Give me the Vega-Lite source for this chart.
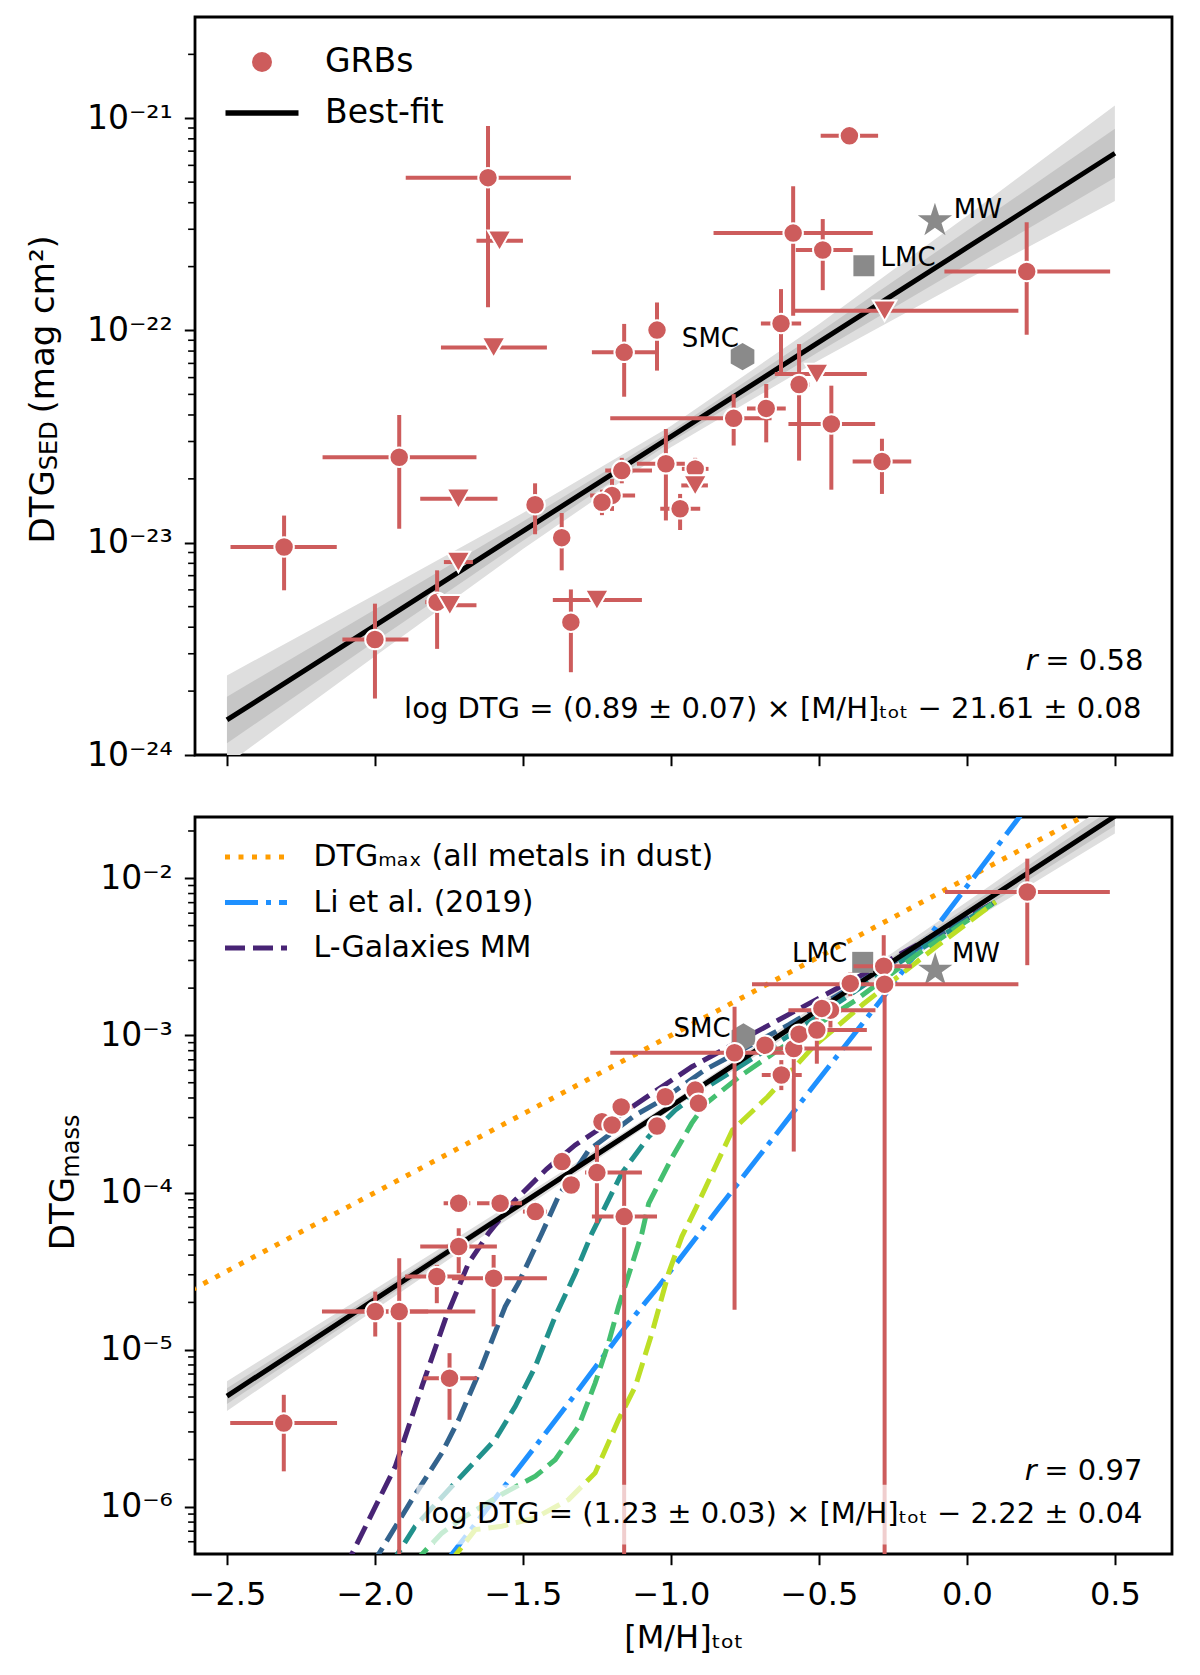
{
  "$schema": "https://vega.github.io/schema/vega-lite/v6.json",
  "padding": {"left": 25, "top": 15, "right": 5, "bottom": 5},
  "spacing": 41,
  "config": {
    "font": "DejaVu Sans",
    "view": {"stroke": "black", "strokeWidth": 2.8},
    "axis": {
      "grid": false, "domain": false, "tickColor": "black", "tickWidth": 2,
      "labelColor": "black", "labelFont": "DejaVu Sans", "labelFontSize": 32,
      "titleFont": "DejaVu Sans", "titleFontSize": 32, "titleFontWeight": "normal",
      "titleColor": "black", "labelFlush": false
    },
    "legend": {"labelFont": "DejaVu Sans", "labelColor": "black", "padding": 0, "labelLimit": 800}
  },
  "datasets": {
    "top_pts": [
      {"x": -2.307, "ly": -23.02, "xlo": -2.488, "xhi": -2.129, "ylo": -23.224, "yhi": -22.872, "kind": "det"},
      {"x": -1.618, "ly": -21.28, "xlo": -1.896, "xhi": -1.338, "ylo": -21.89, "yhi": -21.036, "kind": "det"},
      {"x": -1.918, "ly": -22.597, "xlo": -2.177, "xhi": -1.657, "ylo": -22.934, "yhi": -22.398, "kind": "det"},
      {"x": -1.459, "ly": -22.821, "xlo": -1.49, "xhi": -1.43, "ylo": -22.96, "yhi": -22.72, "kind": "det"},
      {"x": -1.369, "ly": -22.976, "xlo": -1.4, "xhi": -1.34, "ylo": -23.13, "yhi": -22.86, "kind": "det"},
      {"x": -1.79, "ly": -23.28, "xlo": -1.83, "xhi": -1.75, "ylo": -23.5, "yhi": -23.13, "kind": "det"},
      {"x": -2.0, "ly": -23.456, "xlo": -2.11, "xhi": -1.887, "ylo": -23.734, "yhi": -23.287, "kind": "det"},
      {"x": -1.338, "ly": -23.374, "xlo": -1.36, "xhi": -1.32, "ylo": -23.61, "yhi": -23.22, "kind": "det"},
      {"x": -0.397, "ly": -21.083, "xlo": -0.494, "xhi": -0.3, "ylo": -21.1, "yhi": -21.07, "kind": "det"},
      {"x": -0.587, "ly": -21.541, "xlo": -0.856, "xhi": -0.318, "ylo": -21.93, "yhi": -21.32, "kind": "det"},
      {"x": -0.487, "ly": -21.621, "xlo": -0.578, "xhi": -0.386, "ylo": -21.81, "yhi": -21.475, "kind": "det"},
      {"x": 0.202, "ly": -21.722, "xlo": -0.076, "xhi": 0.484, "ylo": -22.02, "yhi": -21.49, "kind": "det"},
      {"x": -0.628, "ly": -21.967, "xlo": -0.696, "xhi": -0.56, "ylo": -22.213, "yhi": -21.805, "kind": "det"},
      {"x": -1.047, "ly": -21.998, "xlo": -1.06, "xhi": -1.035, "ylo": -22.189, "yhi": -21.868, "kind": "det"},
      {"x": -1.158, "ly": -22.103, "xlo": -1.267, "xhi": -1.047, "ylo": -22.312, "yhi": -21.969, "kind": "det"},
      {"x": -0.567, "ly": -22.255, "xlo": -0.6, "xhi": -0.53, "ylo": -22.613, "yhi": -22.064, "kind": "det"},
      {"x": -0.678, "ly": -22.367, "xlo": -0.743, "xhi": -0.612, "ylo": -22.527, "yhi": -22.252, "kind": "det"},
      {"x": -0.788, "ly": -22.414, "xlo": -1.205, "xhi": -0.66, "ylo": -22.542, "yhi": -22.3, "kind": "det"},
      {"x": -0.458, "ly": -22.44, "xlo": -0.603, "xhi": -0.31, "ylo": -22.75, "yhi": -22.26, "kind": "det"},
      {"x": -0.287, "ly": -22.617, "xlo": -0.386, "xhi": -0.188, "ylo": -22.77, "yhi": -22.51, "kind": "det"},
      {"x": -1.017, "ly": -22.628, "xlo": -1.115, "xhi": -0.953, "ylo": -22.895, "yhi": -22.464, "kind": "det"},
      {"x": -1.166, "ly": -22.66, "xlo": -1.222, "xhi": -1.064, "ylo": -22.72, "yhi": -22.6, "kind": "det"},
      {"x": -0.918, "ly": -22.652, "xlo": -0.963, "xhi": -0.873, "ylo": -22.7, "yhi": -22.6, "kind": "det"},
      {"x": -1.199, "ly": -22.777, "xlo": -1.273, "xhi": -1.121, "ylo": -22.85, "yhi": -22.7, "kind": "det"},
      {"x": -1.233, "ly": -22.809, "xlo": -1.26, "xhi": -1.2, "ylo": -22.87, "yhi": -22.75, "kind": "det"},
      {"x": -0.969, "ly": -22.84, "xlo": -1.036, "xhi": -0.901, "ylo": -22.94, "yhi": -22.77, "kind": "det"},
      {"x": -1.579, "ly": -21.577, "xlo": -1.657, "xhi": -1.5, "kind": "ul"},
      {"x": -1.599, "ly": -22.08, "xlo": -1.777, "xhi": -1.419, "kind": "ul"},
      {"x": -1.718, "ly": -22.793, "xlo": -1.847, "xhi": -1.586, "kind": "ul"},
      {"x": -1.718, "ly": -23.091, "xlo": -1.767, "xhi": -1.669, "kind": "ul"},
      {"x": -1.747, "ly": -23.295, "xlo": -1.787, "xhi": -1.657, "kind": "ul"},
      {"x": -1.25, "ly": -23.27, "xlo": -1.399, "xhi": -1.098, "kind": "ul"},
      {"x": -0.278, "ly": -21.907, "xlo": -0.591, "xhi": 0.174, "kind": "ul"},
      {"x": -0.507, "ly": -22.205, "xlo": -0.649, "xhi": -0.338, "kind": "ul"},
      {"x": -0.918, "ly": -22.73, "xlo": -0.965, "xhi": -0.875, "kind": "ul"}
    ],
    "bot_pts": [
      {"x": -2.308, "ly": -5.467, "xlo": -2.489, "xhi": -2.128, "ylo": -5.774, "yhi": -5.287},
      {"x": -1.999, "ly": -4.757, "xlo": -2.179, "xhi": -1.82, "ylo": -4.916, "yhi": -4.63},
      {"x": -1.918, "ly": -4.757, "xlo": -2.1, "xhi": -1.661, "ylo": -7.0, "yhi": -4.418},
      {"x": -1.791, "ly": -4.534, "xlo": -1.898, "xhi": -1.7, "ylo": -4.704, "yhi": -4.46},
      {"x": -1.599, "ly": -4.545, "xlo": -1.74, "xhi": -1.419, "ylo": -4.852, "yhi": -4.397},
      {"x": -1.717, "ly": -4.343, "xlo": -1.847, "xhi": -1.588, "ylo": -4.513, "yhi": -4.227},
      {"x": -1.748, "ly": -5.181, "xlo": -1.836, "xhi": -1.655, "ylo": -5.446, "yhi": -5.022},
      {"x": -1.158, "ly": -4.153, "xlo": -1.267, "xhi": -1.047, "ylo": -7.0, "yhi": -3.866},
      {"x": -1.717, "ly": -4.068, "xlo": -1.768, "xhi": -1.678, "ylo": -4.1, "yhi": -4.03},
      {"x": -1.577, "ly": -4.068, "xlo": -1.655, "xhi": -1.503, "ylo": -4.1, "yhi": -4.03},
      {"x": -1.458, "ly": -4.121, "xlo": -1.5, "xhi": -1.42, "ylo": -4.16, "yhi": -4.08},
      {"x": -1.368, "ly": -3.803, "xlo": -1.4, "xhi": -1.34, "ylo": -3.84, "yhi": -3.77},
      {"x": -1.337, "ly": -3.952, "xlo": -1.36, "xhi": -1.31, "ylo": -3.99, "yhi": -3.91},
      {"x": -1.25, "ly": -3.873, "xlo": -1.29, "xhi": -1.098, "ylo": -4.195, "yhi": -3.697},
      {"x": -1.233, "ly": -3.549, "xlo": -1.26, "xhi": -1.21, "ylo": -3.58, "yhi": -3.52},
      {"x": -1.199, "ly": -3.57, "xlo": -1.23, "xhi": -1.17, "ylo": -3.6, "yhi": -3.54},
      {"x": -1.168, "ly": -3.455, "xlo": -1.2, "xhi": -1.13, "ylo": -3.49, "yhi": -3.42},
      {"x": -1.047, "ly": -3.577, "xlo": -1.07, "xhi": -1.02, "ylo": -3.61, "yhi": -3.55},
      {"x": -1.019, "ly": -3.39, "xlo": -1.04, "xhi": -0.99, "ylo": -3.45, "yhi": -3.33},
      {"x": -0.918, "ly": -3.348, "xlo": -0.94, "xhi": -0.89, "ylo": -3.38, "yhi": -3.32},
      {"x": -0.907, "ly": -3.432, "xlo": -0.93, "xhi": -0.88, "ylo": -3.46, "yhi": -3.4},
      {"x": -0.785, "ly": -3.11, "xlo": -1.205, "xhi": -0.6, "ylo": -4.746, "yhi": -2.818},
      {"x": -0.682, "ly": -3.062, "xlo": -0.71, "xhi": -0.65, "ylo": -3.09, "yhi": -3.03},
      {"x": -0.585, "ly": -3.083, "xlo": -0.65, "xhi": -0.321, "ylo": -3.739, "yhi": -3.0},
      {"x": -0.567, "ly": -2.992, "xlo": -0.6, "xhi": -0.54, "ylo": -3.03, "yhi": -2.96},
      {"x": -0.507, "ly": -2.966, "xlo": -0.55, "xhi": -0.338, "ylo": -3.18, "yhi": -2.88},
      {"x": -0.627, "ly": -3.252, "xlo": -0.693, "xhi": -0.558, "ylo": -3.348, "yhi": -3.157},
      {"x": -0.461, "ly": -2.839, "xlo": -0.603, "xhi": -0.309, "ylo": -2.95, "yhi": -2.78},
      {"x": -0.49, "ly": -2.828, "xlo": -0.52, "xhi": -0.46, "ylo": -2.86, "yhi": -2.8},
      {"x": -0.394, "ly": -2.669, "xlo": -0.43, "xhi": -0.36, "ylo": -2.75, "yhi": -2.6},
      {"x": -0.281, "ly": -2.559, "xlo": -0.383, "xhi": -0.186, "ylo": -2.62, "yhi": -2.362},
      {"x": -0.278, "ly": -2.674, "xlo": -0.726, "xhi": 0.174, "ylo": -7.0, "yhi": -2.65},
      {"x": 0.204, "ly": -2.087, "xlo": -0.074, "xhi": 0.483, "ylo": -2.553, "yhi": -1.875}
    ],
    "fit_top": [
      {"x": -2.5, "ly": -23.835, "olo": -24.045, "ohi": -23.625, "ilo": -23.945, "ihi": -23.725},
      {"x": -2.0, "ly": -23.39, "olo": -23.535, "ohi": -23.245, "ilo": -23.465, "ihi": -23.315},
      {"x": -1.5, "ly": -22.945, "olo": -23.03, "ohi": -22.86, "ilo": -22.99, "ihi": -22.9},
      {"x": -1.0, "ly": -22.5, "olo": -22.55, "ohi": -22.45, "ilo": -22.525, "ihi": -22.475},
      {"x": -0.5, "ly": -22.055, "olo": -22.14, "ohi": -21.97, "ilo": -22.1, "ihi": -22.01},
      {"x": 0.0, "ly": -21.61, "olo": -21.76, "ohi": -21.46, "ilo": -21.69, "ihi": -21.53},
      {"x": 0.5, "ly": -21.165, "olo": -21.39, "ohi": -20.94, "ilo": -21.28, "ihi": -21.05}
    ],
    "fit_bot": [
      {"x": -2.5, "ly": -5.295, "olo": -5.39, "ohi": -5.2, "ilo": -5.345, "ihi": -5.245},
      {"x": -2.0, "ly": -4.68, "olo": -4.745, "ohi": -4.615, "ilo": -4.715, "ihi": -4.645},
      {"x": -1.5, "ly": -4.065, "olo": -4.105, "ohi": -4.025, "ilo": -4.085, "ihi": -4.045},
      {"x": -1.0, "ly": -3.45, "olo": -3.475, "ohi": -3.425, "ilo": -3.462, "ihi": -3.438},
      {"x": -0.5, "ly": -2.835, "olo": -2.875, "ohi": -2.795, "ilo": -2.855, "ihi": -2.815},
      {"x": 0.0, "ly": -2.22, "olo": -2.29, "ohi": -2.15, "ilo": -2.257, "ihi": -2.183},
      {"x": 0.5, "ly": -1.605, "olo": -1.715, "ohi": -1.495, "ilo": -1.665, "ihi": -1.545}
    ],
    "minor_top": [
      {"ly": -23.699}, {"ly": -23.523}, {"ly": -23.398}, {"ly": -23.301}, {"ly": -23.222}, {"ly": -23.155}, {"ly": -23.097}, {"ly": -23.046},
      {"ly": -22.699}, {"ly": -22.523}, {"ly": -22.398}, {"ly": -22.301}, {"ly": -22.222}, {"ly": -22.155}, {"ly": -22.097}, {"ly": -22.046},
      {"ly": -21.699}, {"ly": -21.523}, {"ly": -21.398}, {"ly": -21.301}, {"ly": -21.222}, {"ly": -21.155}, {"ly": -21.097}, {"ly": -21.046},
      {"ly": -20.699}
    ],
    "minor_bot": [
      {"ly": -6.222}, {"ly": -6.155}, {"ly": -6.097}, {"ly": -6.046},
      {"ly": -5.699}, {"ly": -5.523}, {"ly": -5.398}, {"ly": -5.301}, {"ly": -5.222}, {"ly": -5.155}, {"ly": -5.097}, {"ly": -5.046},
      {"ly": -4.699}, {"ly": -4.523}, {"ly": -4.398}, {"ly": -4.301}, {"ly": -4.222}, {"ly": -4.155}, {"ly": -4.097}, {"ly": -4.046},
      {"ly": -3.699}, {"ly": -3.523}, {"ly": -3.398}, {"ly": -3.301}, {"ly": -3.222}, {"ly": -3.155}, {"ly": -3.097}, {"ly": -3.046},
      {"ly": -2.699}, {"ly": -2.523}, {"ly": -2.398}, {"ly": -2.301}, {"ly": -2.222}, {"ly": -2.155}, {"ly": -2.097}, {"ly": -2.046},
      {"ly": -1.699}
    ],
    "models": [
      {"curve": "max", "x": -2.62, "ly": -4.62}, {"curve": "max", "x": 0.4, "ly": -1.6},
      {"curve": "li", "x": -1.76, "ly": -6.35}, {"curve": "li", "x": -1.571, "ly": -5.89},
      {"curve": "li", "x": -1.458, "ly": -5.615}, {"curve": "li", "x": -1.346, "ly": -5.34},
      {"curve": "li", "x": -1.154, "ly": -4.855}, {"curve": "li", "x": -1.042, "ly": -4.598},
      {"curve": "li", "x": -0.839, "ly": -4.1},
      {"curve": "li", "x": -0.59, "ly": -3.496}, {"curve": "li", "x": -0.282, "ly": -2.754},
      {"curve": "li", "x": 0.169, "ly": -1.631}, {"curve": "li", "x": 0.185, "ly": -1.59},
      {"curve": "lg1", "x": -2.1, "ly": -6.4}, {"curve": "lg1", "x": -2.078, "ly": -6.3},
      {"curve": "lg1", "x": -1.931, "ly": -5.742}, {"curve": "lg1", "x": -1.841, "ly": -5.233},
      {"curve": "lg1", "x": -1.763, "ly": -4.81}, {"curve": "lg1", "x": -1.684, "ly": -4.45},
      {"curve": "lg1", "x": -1.616, "ly": -4.259},
      {"curve": "lg1", "x": -1.531, "ly": -4.057}, {"curve": "lg1", "x": -1.42, "ly": -3.85},
      {"curve": "lg1", "x": -1.323, "ly": -3.697}, {"curve": "lg1", "x": -1.188, "ly": -3.528},
      {"curve": "lg1", "x": -1.064, "ly": -3.369}, {"curve": "lg1", "x": -0.929, "ly": -3.199},
      {"curve": "lg1", "x": -0.638, "ly": -2.903}, {"curve": "lg1", "x": -0.3, "ly": -2.56},
      {"curve": "lg1", "x": 0.097, "ly": -2.15},
      {"curve": "lg2", "x": -2.01, "ly": -6.37}, {"curve": "lg2", "x": -1.875, "ly": -5.954},
      {"curve": "lg2", "x": -1.774, "ly": -5.657}, {"curve": "lg2", "x": -1.717, "ly": -5.445},
      {"curve": "lg2", "x": -1.639, "ly": -5.106}, {"curve": "lg2", "x": -1.56, "ly": -4.725},
      {"curve": "lg2", "x": -1.515, "ly": -4.575}, {"curve": "lg2", "x": -1.436, "ly": -4.259},
      {"curve": "lg2", "x": -1.379, "ly": -4.02}, {"curve": "lg2", "x": -1.278, "ly": -3.73},
      {"curve": "lg2", "x": -1.12, "ly": -3.507}, {"curve": "lg2", "x": -1.03, "ly": -3.411},
      {"curve": "lg2", "x": -0.886, "ly": -3.22}, {"curve": "lg2", "x": -0.6, "ly": -2.93},
      {"curve": "lg2", "x": -0.3, "ly": -2.59}, {"curve": "lg2", "x": 0.097, "ly": -2.15},
      {"curve": "lg3", "x": -1.95, "ly": -6.38}, {"curve": "lg3", "x": -1.921, "ly": -6.293},
      {"curve": "lg3", "x": -1.864, "ly": -6.123}, {"curve": "lg3", "x": -1.74, "ly": -5.869},
      {"curve": "lg3", "x": -1.594, "ly": -5.573}, {"curve": "lg3", "x": -1.526, "ly": -5.36},
      {"curve": "lg3", "x": -1.458, "ly": -5.106}, {"curve": "lg3", "x": -1.391, "ly": -4.788},
      {"curve": "lg3", "x": -1.323, "ly": -4.513}, {"curve": "lg3", "x": -1.267, "ly": -4.259},
      {"curve": "lg3", "x": -1.166, "ly": -3.877}, {"curve": "lg3", "x": -1.075, "ly": -3.644},
      {"curve": "lg3", "x": -0.985, "ly": -3.475}, {"curve": "lg3", "x": -0.88, "ly": -3.33},
      {"curve": "lg3", "x": -0.6, "ly": -3.0}, {"curve": "lg3", "x": -0.3, "ly": -2.62},
      {"curve": "lg3", "x": 0.097, "ly": -2.15},
      {"curve": "lg4", "x": -1.87, "ly": -6.36}, {"curve": "lg4", "x": -1.774, "ly": -6.167},
      {"curve": "lg4", "x": -1.695, "ly": -6.06}, {"curve": "lg4", "x": -1.571, "ly": -5.92},
      {"curve": "lg4", "x": -1.458, "ly": -5.805}, {"curve": "lg4", "x": -1.391, "ly": -5.7},
      {"curve": "lg4", "x": -1.312, "ly": -5.488}, {"curve": "lg4", "x": -1.256, "ly": -5.212},
      {"curve": "lg4", "x": -1.211, "ly": -4.958}, {"curve": "lg4", "x": -1.177, "ly": -4.725},
      {"curve": "lg4", "x": -1.098, "ly": -4.259}, {"curve": "lg4", "x": -1.075, "ly": -4.068},
      {"curve": "lg4", "x": -0.997, "ly": -3.78}, {"curve": "lg4", "x": -0.93, "ly": -3.56},
      {"curve": "lg4", "x": -0.886, "ly": -3.44}, {"curve": "lg4", "x": -0.768, "ly": -3.262},
      {"curve": "lg4", "x": -0.638, "ly": -3.093}, {"curve": "lg4", "x": -0.376, "ly": -2.776},
      {"curve": "lg4", "x": -0.15, "ly": -2.46}, {"curve": "lg4", "x": 0.097, "ly": -2.15},
      {"curve": "lg5", "x": -1.75, "ly": -6.36}, {"curve": "lg5", "x": -1.729, "ly": -6.31},
      {"curve": "lg5", "x": -1.661, "ly": -6.145}, {"curve": "lg5", "x": -1.571, "ly": -6.123},
      {"curve": "lg5", "x": -1.458, "ly": -6.07}, {"curve": "lg5", "x": -1.346, "ly": -5.954},
      {"curve": "lg5", "x": -1.256, "ly": -5.784}, {"curve": "lg5", "x": -1.177, "ly": -5.445},
      {"curve": "lg5", "x": -1.12, "ly": -5.233}, {"curve": "lg5", "x": -1.064, "ly": -4.894},
      {"curve": "lg5", "x": -1.008, "ly": -4.513}, {"curve": "lg5", "x": -0.963, "ly": -4.28},
      {"curve": "lg5", "x": -0.916, "ly": -4.1}, {"curve": "lg5", "x": -0.792, "ly": -3.602},
      {"curve": "lg5", "x": -0.673, "ly": -3.39}, {"curve": "lg5", "x": -0.519, "ly": -3.072},
      {"curve": "lg5", "x": -0.35, "ly": -2.8}, {"curve": "lg5", "x": -0.1, "ly": -2.43},
      {"curve": "lg5", "x": 0.097, "ly": -2.15}
    ],
    "gal": [
      {"panel": "top", "name": "MW", "x": -0.108, "ly": -21.483},
      {"panel": "top", "name": "LMC", "x": -0.348, "ly": -21.695},
      {"panel": "top", "name": "SMC", "x": -0.758, "ly": -22.123},
      {"panel": "bot", "name": "MW", "x": -0.107, "ly": -2.585},
      {"panel": "bot", "name": "LMC", "x": -0.352, "ly": -2.535},
      {"panel": "bot", "name": "SMC", "x": -0.755, "ly": -3.01}
    ],
    "gal_labels": [
      {"panel": "top", "text": "MW", "x": -0.044, "ly": -21.468},
      {"panel": "top", "text": "LMC", "x": -0.292, "ly": -21.695},
      {"panel": "top", "text": "SMC", "x": -0.963, "ly": -22.076},
      {"panel": "bot", "text": "LMC", "x": -0.591, "ly": -2.531},
      {"panel": "bot", "text": "SMC", "x": -0.991, "ly": -3.008},
      {"panel": "bot", "text": "MW", "x": -0.0507, "ly": -2.531}
    ],
    "annot": [
      {"panel": "top", "piece": "eq", "text": "= 0.58", "x": 0.5963, "ly": -23.601},
      {"panel": "top", "piece": "r", "text": "r", "x": 0.2388, "ly": -23.601},
      {"panel": "top", "piece": "eq", "text": "log DTG = (0.89 ± 0.07) × [M/H]ₜₒₜ − 21.61 ± 0.08", "x": 0.5897, "ly": -23.828},
      {"panel": "bot", "piece": "eq", "text": "= 0.97", "x": 0.5929, "ly": -5.827},
      {"panel": "bot", "piece": "r", "text": "r", "x": 0.2354, "ly": -5.827},
      {"panel": "bot", "piece": "eq", "text": "log DTG = (1.23 ± 0.03) × [M/H]ₜₒₜ − 2.22 ± 0.04", "x": 0.593, "ly": -6.102}
    ],
    "ytitle": [
      {"panel": "top", "role": "main", "text": "DTG", "x": -3.0845, "ly": -23.003},
      {"panel": "top", "role": "sub", "text": "SED", "x": -3.0726, "ly": -22.658},
      {"panel": "top", "role": "main", "text": "(mag cm²)", "x": -3.0845, "ly": -22.391},
      {"panel": "bot", "role": "main", "text": "DTG", "x": -3.0152, "ly": -4.367},
      {"panel": "bot", "role": "sub", "text": "mass", "x": -3.0, "ly": -3.905}
    ],
    "box": [
      {"x": -1.86, "x2": 0.645, "ly": -6.24, "ly2": -5.86}
    ]
  },
  "vconcat": [
    {
      "width": 977,
      "height": 738,
      "layer": [
        {
          "data": {"name": "fit_top"},
          "mark": {"type": "area", "color": "#dedede", "clip": true},
          "encoding": {
            "x": {"field": "x", "type": "quantitative", "title": null, "scale": {"domain": [-2.608, 0.693], "nice": false, "zero": false},
                  "axis": {"values": [-2.5, -2, -1.5, -1, -0.5, 0, 0.5], "labels": false, "tickSize": 10.7, "title": null}},
            "y": {"field": "olo", "type": "quantitative", "title": null, "scale": {"domain": [-24, -20.523], "nice": false, "zero": false},
                  "axis": {
                    "title": null,
                    "values": [-24, -23, -22, -21],
                    "labelExpr": "datum.value === -24 ? '10⁻²⁴' : datum.value === -23 ? '10⁻²³' : datum.value === -22 ? '10⁻²²' : '10⁻²¹'",
                    "tickSize": 10.7,
                    "labelPadding": 12,
                    "labelFontSize": 33
                  }},
            "y2": {"field": "ohi"}
          }
        },
        {
          "data": {"name": "fit_top"},
          "mark": {"type": "area", "color": "#c6c6c6", "clip": true},
          "encoding": {
            "x": {"field": "x", "type": "quantitative", "title": null},
            "y": {"field": "ilo", "type": "quantitative", "title": null},
            "y2": {"field": "ihi"}
          }
        },
        {
          "data": {"name": "minor_top"},
          "mark": {"type": "rule", "color": "black", "strokeWidth": 1.6, "clip": false},
          "encoding": {
            "x": {"datum": -2.6313, "type": "quantitative"},
            "x2": {"datum": -2.608},
            "y": {"field": "ly", "type": "quantitative", "title": null}
          }
        },
        {
          "data": {"name": "fit_top"},
          "mark": {"type": "line", "color": "black", "strokeWidth": 5, "clip": true},
          "encoding": {
            "x": {"field": "x", "type": "quantitative", "title": null},
            "y": {"field": "ly", "type": "quantitative", "title": null}
          }
        },
        {
          "data": {"name": "gal"},
          "transform": [{"filter": "datum.panel === 'top' && datum.name === 'MW'"}],
          "mark": {"type": "point", "shape": "M0,-1L0.2245,-0.309L0.9511,-0.309L0.3633,0.118L0.5878,0.809L0,0.382L-0.5878,0.809L-0.3633,0.118L-0.9511,-0.309L-0.2245,-0.309Z", "size": 1300, "filled": true, "color": "#8a8a8a", "opacity": 1},
          "encoding": {
            "x": {"field": "x", "type": "quantitative", "title": null},
            "y": {"field": "ly", "type": "quantitative", "title": null}
          }
        },
        {
          "data": {"name": "gal"},
          "transform": [{"filter": "datum.panel === 'top' && datum.name === 'LMC'"}],
          "mark": {"type": "point", "shape": "square", "size": 441, "filled": true, "color": "#8a8a8a", "opacity": 1},
          "encoding": {
            "x": {"field": "x", "type": "quantitative", "title": null},
            "y": {"field": "ly", "type": "quantitative", "title": null}
          }
        },
        {
          "data": {"name": "gal"},
          "transform": [{"filter": "datum.panel === 'top' && datum.name === 'SMC'"}],
          "mark": {"type": "point", "shape": "M0,-1L0.866,-0.5L0.866,0.5L0,1L-0.866,0.5L-0.866,-0.5Z", "size": 745, "filled": true, "color": "#8a8a8a", "opacity": 1},
          "encoding": {
            "x": {"field": "x", "type": "quantitative", "title": null},
            "y": {"field": "ly", "type": "quantitative", "title": null}
          }
        },
        {
          "data": {"name": "top_pts"},
          "mark": {"type": "rule", "color": "#cd5c5c", "strokeWidth": 4, "clip": true},
          "encoding": {
            "x": {"field": "xlo", "type": "quantitative", "title": null},
            "x2": {"field": "xhi"},
            "y": {"field": "ly", "type": "quantitative", "title": null}
          }
        },
        {
          "data": {"name": "top_pts"},
          "transform": [{"filter": "datum.kind === 'det'"}],
          "mark": {"type": "rule", "color": "#cd5c5c", "strokeWidth": 4, "clip": true},
          "encoding": {
            "x": {"field": "x", "type": "quantitative", "title": null},
            "y": {"field": "ylo", "type": "quantitative", "title": null},
            "y2": {"field": "yhi"}
          }
        },
        {
          "data": {"name": "top_pts"},
          "transform": [{"filter": "datum.kind === 'det'"}],
          "mark": {"type": "point", "filled": true, "size": 380, "stroke": "white", "strokeWidth": 2, "opacity": 1},
          "encoding": {
            "x": {"field": "x", "type": "quantitative", "title": null},
            "y": {"field": "ly", "type": "quantitative", "title": null},
            "color": {
              "datum": "GRBs", "type": "nominal",
              "scale": {"domain": ["GRBs", "Best-fit"], "range": ["#cd5c5c", "black"]},
              "legend": {
                "orient": "none", "legendX": 50.5, "legendY": 28.5, "title": null,
                "symbolSize": 400, "symbolStrokeWidth": 0, "labelFontSize": 33,
                "labelOffset": 46.5, "rowPadding": 17, "symbolOpacity": 1
              }
            },
            "shape": {
              "datum": "GRBs", "type": "nominal",
              "scale": {"domain": ["GRBs", "Best-fit"], "range": ["circle", "M-3.65,-0.28H3.65V0.28H-3.65Z"]},
              "legend": {
                "orient": "none", "legendX": 50.5, "legendY": 28.5, "title": null,
                "symbolSize": 400, "symbolStrokeWidth": 0, "labelFontSize": 33,
                "labelOffset": 46.5, "rowPadding": 17, "symbolOpacity": 1
              }
            }
          }
        },
        {
          "data": {"name": "top_pts"},
          "transform": [{"filter": "datum.kind === 'ul'"}],
          "mark": {"type": "point", "shape": "triangle-down", "filled": true, "size": 560, "color": "#cd5c5c", "stroke": "white", "strokeWidth": 2, "opacity": 1},
          "encoding": {
            "x": {"field": "x", "type": "quantitative", "title": null},
            "y": {"field": "ly", "type": "quantitative", "title": null}
          }
        },
        {
          "data": {"name": "gal_labels"},
          "transform": [{"filter": "datum.panel === 'top'"}],
          "mark": {"type": "text", "align": "left", "baseline": "alphabetic", "fontSize": 26, "color": "black"},
          "encoding": {
            "x": {"field": "x", "type": "quantitative", "title": null},
            "y": {"field": "ly", "type": "quantitative", "title": null},
            "text": {"field": "text"}
          }
        },
        {
          "data": {"name": "annot"},
          "transform": [{"filter": "datum.panel === 'top' && datum.piece === 'eq'"}],
          "mark": {"type": "text", "align": "right", "baseline": "alphabetic", "fontSize": 29, "color": "black"},
          "encoding": {
            "x": {"field": "x", "type": "quantitative", "title": null},
            "y": {"field": "ly", "type": "quantitative", "title": null},
            "text": {"field": "text"}
          }
        },
        {
          "data": {"name": "annot"},
          "transform": [{"filter": "datum.panel === 'top' && datum.piece === 'r'"}],
          "mark": {"type": "text", "align": "right", "baseline": "alphabetic", "fontSize": 29, "fontStyle": "italic", "color": "black"},
          "encoding": {
            "x": {"field": "x", "type": "quantitative", "title": null},
            "y": {"field": "ly", "type": "quantitative", "title": null},
            "text": {"field": "text"}
          }
        },
        {
          "data": {"name": "ytitle"},
          "transform": [{"filter": "datum.panel === 'top' && datum.role === 'main'"}],
          "mark": {"type": "text", "angle": 270, "align": "left", "baseline": "alphabetic", "fontSize": 34, "color": "black", "clip": false},
          "encoding": {
            "x": {"field": "x", "type": "quantitative", "title": null},
            "y": {"field": "ly", "type": "quantitative", "title": null},
            "text": {"field": "text"}
          }
        },
        {
          "data": {"name": "ytitle"},
          "transform": [{"filter": "datum.panel === 'top' && datum.role === 'sub'"}],
          "mark": {"type": "text", "angle": 270, "align": "left", "baseline": "alphabetic", "fontSize": 24, "color": "black", "clip": false},
          "encoding": {
            "x": {"field": "x", "type": "quantitative", "title": null},
            "y": {"field": "ly", "type": "quantitative", "title": null},
            "text": {"field": "text"}
          }
        }
      ]
    },
    {
      "width": 977,
      "height": 737,
      "layer": [
        {
          "data": {"name": "fit_bot"},
          "mark": {"type": "area", "color": "#dedede", "clip": true},
          "encoding": {
            "x": {"field": "x", "type": "quantitative", "title": "[M/H]ₜₒₜ", "scale": {"domain": [-2.608, 0.693], "nice": false, "zero": false},
                  "axis": {"values": [-2.5, -2, -1.5, -1, -0.5, 0, 0.5], "format": ".1f", "tickSize": 10.7, "labelPadding": 14.4,
                           "title": "[M/H]ₜₒₜ", "titlePadding": 12}},
            "y": {"field": "olo", "type": "quantitative", "title": null, "scale": {"domain": [-6.3, -1.61], "nice": false, "zero": false},
                  "axis": {
                    "title": null,
                    "values": [-6, -5, -4, -3, -2],
                    "labelExpr": "datum.value === -6 ? '10⁻⁶' : datum.value === -5 ? '10⁻⁵' : datum.value === -4 ? '10⁻⁴' : datum.value === -3 ? '10⁻³' : '10⁻²'",
                    "tickSize": 10.7,
                    "labelPadding": 12,
                    "labelFontSize": 33
                  }},
            "y2": {"field": "ohi"}
          }
        },
        {
          "data": {"name": "fit_bot"},
          "mark": {"type": "area", "color": "#c6c6c6", "clip": true},
          "encoding": {
            "x": {"field": "x", "type": "quantitative"},
            "y": {"field": "ilo", "type": "quantitative", "title": null},
            "y2": {"field": "ihi"}
          }
        },
        {
          "data": {"name": "minor_bot"},
          "mark": {"type": "rule", "color": "black", "strokeWidth": 1.6, "clip": false},
          "encoding": {
            "x": {"datum": -2.6313, "type": "quantitative"},
            "x2": {"datum": -2.608},
            "y": {"field": "ly", "type": "quantitative", "title": null}
          }
        },
        {
          "data": {"name": "models"},
          "mark": {"type": "line", "strokeWidth": 5, "clip": true, "strokeCap": "butt"},
          "encoding": {
            "x": {"field": "x", "type": "quantitative"},
            "y": {"field": "ly", "type": "quantitative", "title": null},
            "color": {
              "field": "curve", "type": "nominal",
              "scale": {"domain": ["max", "li", "lg1", "lg2", "lg3", "lg4", "lg5"],
                        "range": ["#ff9d00", "#1e90ff", "#482475", "#33638d", "#21918c", "#44bf70", "#bddf26"]},
              "legend": {
                "orient": "none", "legendX": 27.5, "legendY": 25, "title": null,
                "values": ["max", "li", "lg1"],
                "labelExpr": "datum.value === 'max' ? 'DTGₘₐₓ (all metals in dust)' : datum.value === 'li' ? 'Li et al. (2019)' : 'L-Galaxies MM'",
                "symbolType": "stroke", "symbolSize": 3844, "symbolStrokeWidth": 5, "clipHeight": 30,
                "labelFontSize": 30, "labelOffset": 24, "rowPadding": 15.5, "labelLimit": 800
              }
            },
            "strokeDash": {
              "field": "curve", "type": "nominal",
              "scale": {"domain": ["max", "li", "lg1", "lg2", "lg3", "lg4", "lg5"],
                        "range": [[5, 8.5], [33, 8, 5, 8], [20, 8], [20, 8], [20, 8], [20, 8], [20, 8]]},
              "legend": {
                "orient": "none", "legendX": 27.5, "legendY": 25, "title": null,
                "values": ["max", "li", "lg1"],
                "labelExpr": "datum.value === 'max' ? 'DTGₘₐₓ (all metals in dust)' : datum.value === 'li' ? 'Li et al. (2019)' : 'L-Galaxies MM'",
                "symbolType": "stroke", "symbolSize": 3844, "symbolStrokeWidth": 5, "clipHeight": 30,
                "labelFontSize": 30, "labelOffset": 24, "rowPadding": 15.5, "labelLimit": 800
              }
            }
          }
        },
        {
          "data": {"name": "fit_bot"},
          "mark": {"type": "line", "color": "black", "strokeWidth": 5, "clip": true},
          "encoding": {
            "x": {"field": "x", "type": "quantitative"},
            "y": {"field": "ly", "type": "quantitative", "title": null}
          }
        },
        {
          "data": {"name": "gal"},
          "transform": [{"filter": "datum.panel === 'bot' && datum.name === 'MW'"}],
          "mark": {"type": "point", "shape": "M0,-1L0.2245,-0.309L0.9511,-0.309L0.3633,0.118L0.5878,0.809L0,0.382L-0.5878,0.809L-0.3633,0.118L-0.9511,-0.309L-0.2245,-0.309Z", "size": 1300, "filled": true, "color": "#8a8a8a", "opacity": 1},
          "encoding": {
            "x": {"field": "x", "type": "quantitative"},
            "y": {"field": "ly", "type": "quantitative", "title": null}
          }
        },
        {
          "data": {"name": "gal"},
          "transform": [{"filter": "datum.panel === 'bot' && datum.name === 'LMC'"}],
          "mark": {"type": "point", "shape": "square", "size": 441, "filled": true, "color": "#8a8a8a", "opacity": 1},
          "encoding": {
            "x": {"field": "x", "type": "quantitative"},
            "y": {"field": "ly", "type": "quantitative", "title": null}
          }
        },
        {
          "data": {"name": "gal"},
          "transform": [{"filter": "datum.panel === 'bot' && datum.name === 'SMC'"}],
          "mark": {"type": "point", "shape": "M0,-1L0.866,-0.5L0.866,0.5L0,1L-0.866,0.5L-0.866,-0.5Z", "size": 745, "filled": true, "color": "#8a8a8a", "opacity": 1},
          "encoding": {
            "x": {"field": "x", "type": "quantitative"},
            "y": {"field": "ly", "type": "quantitative", "title": null}
          }
        },
        {
          "data": {"name": "bot_pts"},
          "mark": {"type": "rule", "color": "#cd5c5c", "strokeWidth": 4, "clip": true},
          "encoding": {
            "x": {"field": "xlo", "type": "quantitative"},
            "x2": {"field": "xhi"},
            "y": {"field": "ly", "type": "quantitative", "title": null}
          }
        },
        {
          "data": {"name": "bot_pts"},
          "mark": {"type": "rule", "color": "#cd5c5c", "strokeWidth": 4, "clip": true},
          "encoding": {
            "x": {"field": "x", "type": "quantitative"},
            "y": {"field": "ylo", "type": "quantitative", "title": null},
            "y2": {"field": "yhi"}
          }
        },
        {
          "data": {"name": "bot_pts"},
          "mark": {"type": "point", "filled": true, "size": 380, "color": "#cd5c5c", "stroke": "white", "strokeWidth": 2, "opacity": 1},
          "encoding": {
            "x": {"field": "x", "type": "quantitative"},
            "y": {"field": "ly", "type": "quantitative", "title": null}
          }
        },
        {
          "data": {"name": "box"},
          "mark": {"type": "rect", "color": "white", "opacity": 0.7, "clip": true},
          "encoding": {
            "x": {"field": "x", "type": "quantitative"},
            "x2": {"field": "x2"},
            "y": {"field": "ly", "type": "quantitative", "title": null},
            "y2": {"field": "ly2"}
          }
        },
        {
          "data": {"name": "gal_labels"},
          "transform": [{"filter": "datum.panel === 'bot'"}],
          "mark": {"type": "text", "align": "left", "baseline": "alphabetic", "fontSize": 26, "color": "black"},
          "encoding": {
            "x": {"field": "x", "type": "quantitative"},
            "y": {"field": "ly", "type": "quantitative", "title": null},
            "text": {"field": "text"}
          }
        },
        {
          "data": {"name": "annot"},
          "transform": [{"filter": "datum.panel === 'bot' && datum.piece === 'eq'"}],
          "mark": {"type": "text", "align": "right", "baseline": "alphabetic", "fontSize": 29, "color": "black"},
          "encoding": {
            "x": {"field": "x", "type": "quantitative"},
            "y": {"field": "ly", "type": "quantitative", "title": null},
            "text": {"field": "text"}
          }
        },
        {
          "data": {"name": "annot"},
          "transform": [{"filter": "datum.panel === 'bot' && datum.piece === 'r'"}],
          "mark": {"type": "text", "align": "right", "baseline": "alphabetic", "fontSize": 29, "fontStyle": "italic", "color": "black"},
          "encoding": {
            "x": {"field": "x", "type": "quantitative"},
            "y": {"field": "ly", "type": "quantitative", "title": null},
            "text": {"field": "text"}
          }
        },
        {
          "data": {"name": "ytitle"},
          "transform": [{"filter": "datum.panel === 'bot' && datum.role === 'main'"}],
          "mark": {"type": "text", "angle": 270, "align": "left", "baseline": "alphabetic", "fontSize": 34, "color": "black", "clip": false},
          "encoding": {
            "x": {"field": "x", "type": "quantitative"},
            "y": {"field": "ly", "type": "quantitative", "title": null},
            "text": {"field": "text"}
          }
        },
        {
          "data": {"name": "ytitle"},
          "transform": [{"filter": "datum.panel === 'bot' && datum.role === 'sub'"}],
          "mark": {"type": "text", "angle": 270, "align": "left", "baseline": "alphabetic", "fontSize": 24, "color": "black", "clip": false},
          "encoding": {
            "x": {"field": "x", "type": "quantitative"},
            "y": {"field": "ly", "type": "quantitative", "title": null},
            "text": {"field": "text"}
          }
        }
      ]
    }
  ],
  "resolve": {
    "scale": {"x": "independent", "y": "independent", "shape": "independent", "color": "independent", "strokeDash": "independent"},
    "legend": {"shape": "independent", "color": "independent", "strokeDash": "independent"}
  }
}
